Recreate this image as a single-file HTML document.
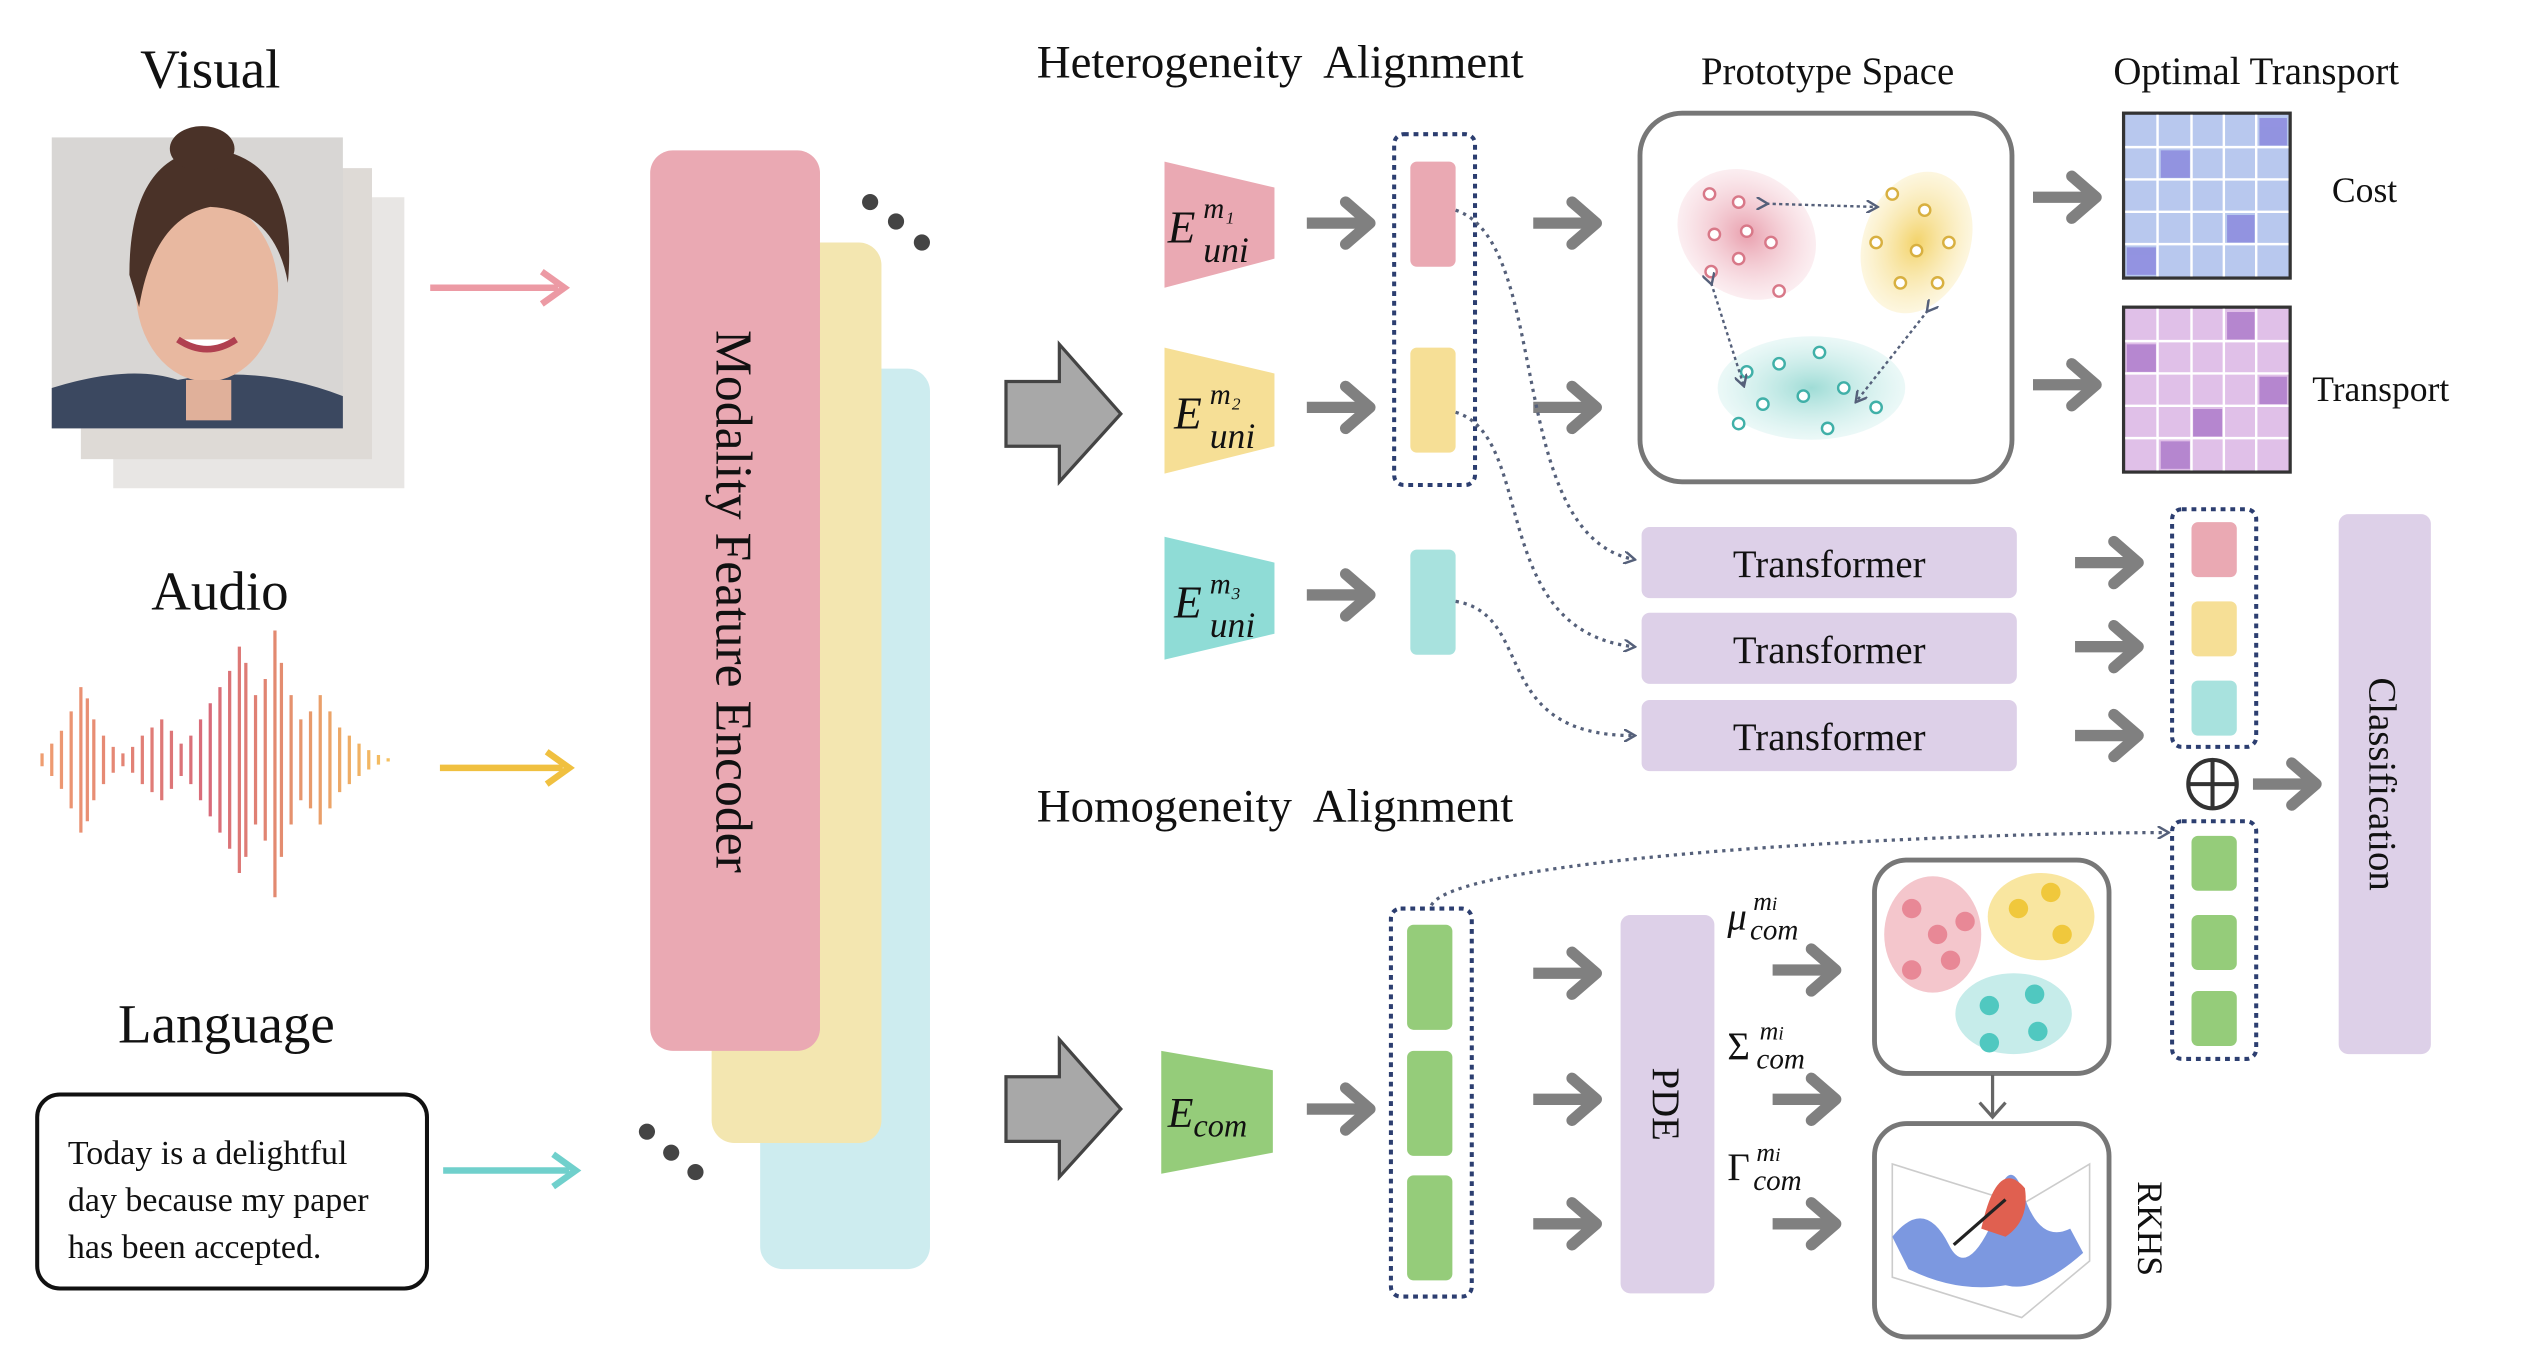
<!DOCTYPE html>
<html><head><meta charset="utf-8"><style>
html,body{margin:0;padding:0;background:#fff;width:2536px;height:1358px;overflow:hidden}
svg{display:block}
text{font-family:"Liberation Serif",serif;fill:#111}
</style></head><body>
<svg width="2536" height="1358" viewBox="0 0 1568 840" preserveAspectRatio="none" xmlns="http://www.w3.org/2000/svg">
<defs>
<marker id="dh" markerWidth="8" markerHeight="8" refX="6" refY="4" orient="auto" markerUnits="userSpaceOnUse"><path d="M0,0 L7,4 L0,8" fill="none" stroke="#55607a" stroke-width="1.5"/></marker>
<linearGradient id="wv" x1="0" y1="0" x2="1" y2="0"><stop offset="0" stop-color="#f0a070"/><stop offset=".5" stop-color="#d86a7a"/><stop offset="1" stop-color="#f5c060"/></linearGradient>
<radialGradient id="gp"><stop offset="0" stop-color="#e9a0ae"/><stop offset="1" stop-color="#f8dde3" stop-opacity=".5"/></radialGradient>
<radialGradient id="gy"><stop offset="0" stop-color="#f3d36a"/><stop offset="1" stop-color="#fbeec0" stop-opacity=".5"/></radialGradient>
<radialGradient id="gt"><stop offset="0" stop-color="#9fdcd6"/><stop offset="1" stop-color="#d8f2f0" stop-opacity=".5"/></radialGradient>
<g id="ga"><line x1="0" y1="0" x2="-40" y2="0" stroke="#808080" stroke-width="7"/><polyline points="-16,-13 -1,0 -16,13" fill="none" stroke="#808080" stroke-width="7" stroke-linecap="round" stroke-linejoin="round"/></g>
</defs>

<!-- Visual -->
<text x="130" y="54" font-size="34" text-anchor="middle">Visual</text>
<rect x="70" y="122" width="180" height="180" fill="#e8e6e4"/>
<rect x="50" y="104" width="180" height="180" fill="#dedad6"/>
<rect x="32" y="85" width="180" height="180" fill="#d8d6d4"/>
<path d="M32,265 L32,240 Q80,225 110,235 Q160,225 212,245 L212,265Z" fill="#3b4860"/>
<ellipse cx="128" cy="180" rx="44" ry="56" fill="#e8b8a0"/>
<path d="M80,170 Q80,95 130,92 Q185,98 178,175 Q170,130 130,128 Q95,135 86,190Z" fill="#4a3228"/>
<ellipse cx="125" cy="92" rx="20" ry="14" fill="#4a3228"/>
<path d="M110,210 Q128,222 146,210" stroke="#b04050" stroke-width="4" fill="#fff"/>
<rect x="115" y="235" width="28" height="25" fill="#e0b09a"/>
<line x1="266" y1="178" x2="345" y2="178" stroke="#ec9aa4" stroke-width="4"/><polyline points="335,168 349,178 335,188" fill="none" stroke="#ec9aa4" stroke-width="4"/>

<!-- Audio -->
<text x="136" y="377" font-size="34" text-anchor="middle">Audio</text>
<g stroke="url(#wv)" stroke-width="2">
<path d="M20,470v0 M26,466v8 M32,460v20 M38,452v36 M44,440v60 M50,425v90 M54,432v76 M58,445v50 M64,455v30 M70,462v16 M76,466v8 M82,462v16 M88,455v30 M94,450v40 M100,445v50 M106,452v36 M112,460v20 M118,455v30 M124,445v50 M130,435v70 M136,425v90 M142,415v110 M148,400v140 M152,410v120 M158,430v80 M164,420v100 M170,390v165 M174,410v120 M180,430v80 M186,445v50 M192,440v60 M198,430v80 M204,440v60 M210,450v40 M216,455v30 M222,460v20 M228,464v12 M234,467v6 M240,469v2"/>
</g>
<line x1="272" y1="475" x2="348" y2="475" stroke="#f0c040" stroke-width="4"/><polyline points="338,465 352,475 338,485" fill="none" stroke="#f0c040" stroke-width="4"/>

<!-- Language -->
<text x="140" y="645" font-size="34" text-anchor="middle">Language</text>
<rect x="23" y="677" width="241" height="120" rx="14" fill="#fff" stroke="#111" stroke-width="2.5"/>
<text x="42" y="720" font-size="21">Today is a delightful</text>
<text x="42" y="749" font-size="21">day because my paper</text>
<text x="42" y="778" font-size="21">has been accepted.</text>
<line x1="274" y1="724" x2="352" y2="724" stroke="#70d0cc" stroke-width="4"/><polyline points="342,714 356,724 342,734" fill="none" stroke="#70d0cc" stroke-width="4"/>

<!-- Encoder -->
<rect x="470" y="228" width="105" height="557" rx="14" fill="#cdecef"/>
<rect x="440" y="150" width="105" height="557" rx="14" fill="#f3e6b0"/>
<rect x="402" y="93" width="105" height="557" rx="14" fill="#eaa9b3"/>
<text transform="translate(443,372) rotate(90)" font-size="32" text-anchor="middle">Modality Feature Encoder</text>
<g fill="#444"><circle cx="538" cy="125" r="5"/><circle cx="554" cy="137" r="5"/><circle cx="570" cy="150" r="5"/>
<circle cx="400" cy="700" r="5"/><circle cx="415" cy="713" r="5"/><circle cx="430" cy="725" r="5"/></g>

<!-- Big arrows -->
<path d="M622,236 H655 V213 L693,256 L655,298 V276 H622Z" fill="#a8a8a8" stroke="#444" stroke-width="2"/>
<path d="M622,666 H655 V643 L693,686 L655,728 V706 H622Z" fill="#a8a8a8" stroke="#444" stroke-width="2"/>

<!-- Heterogeneity -->
<text x="641" y="48" font-size="29" xml:space="preserve">Heterogeneity  Alignment</text>
<path d="M720,100 L788,116 L788,160 L720,178Z" fill="#eaa9b3"/>
<path d="M720,215 L788,231 L788,276 L720,293Z" fill="#f6df96"/>
<path d="M720,332 L788,348 L788,392 L720,408Z" fill="#8fdcd6"/>
<g font-style="italic" font-size="28">
<text x="722" y="150">E</text><text x="744" y="135" font-size="18">m₁</text><text x="744" y="162" font-size="22">uni</text>
<text x="726" y="265">E</text><text x="748" y="250" font-size="18">m₂</text><text x="748" y="277" font-size="22">uni</text>
<text x="726" y="382">E</text><text x="748" y="367" font-size="18">m₃</text><text x="748" y="394" font-size="22">uni</text>
</g>
<use href="#ga" x="848" y="138"/><use href="#ga" x="848" y="252"/><use href="#ga" x="848" y="368"/>
<rect x="862" y="83" width="50" height="217" rx="6" fill="none" stroke="#2c3e70" stroke-width="2.5" stroke-dasharray="3,3"/>
<rect x="872" y="100" width="28" height="65" rx="4" fill="#eaa9b3"/>
<rect x="872" y="215" width="28" height="65" rx="4" fill="#f6df96"/>
<rect x="872" y="340" width="28" height="65" rx="4" fill="#a8e2de"/>
<use href="#ga" x="988" y="138"/><use href="#ga" x="988" y="252"/>

<!-- Prototype space -->
<text x="1130" y="52" font-size="24" text-anchor="middle">Prototype Space</text>
<rect x="1014" y="70" width="230" height="228" rx="26" fill="#fff" stroke="#777" stroke-width="3"/>
<ellipse cx="1080" cy="145" rx="45" ry="38" transform="rotate(35 1080 145)" fill="url(#gp)"/>
<ellipse cx="1185" cy="150" rx="33" ry="45" transform="rotate(20 1185 150)" fill="url(#gy)"/>
<ellipse cx="1120" cy="240" rx="58" ry="32" fill="url(#gt)"/>
<g fill="#fff" stroke-width="1.5">
<g stroke="#d87888"><circle cx="1057" cy="120" r="3.5"/><circle cx="1075" cy="125" r="3.5"/><circle cx="1060" cy="145" r="3.5"/><circle cx="1080" cy="143" r="3.5"/><circle cx="1095" cy="150" r="3.5"/><circle cx="1075" cy="160" r="3.5"/><circle cx="1058" cy="168" r="3.5"/><circle cx="1100" cy="180" r="3.5"/></g>
<g stroke="#d8b040"><circle cx="1170" cy="120" r="3.5"/><circle cx="1190" cy="130" r="3.5"/><circle cx="1160" cy="150" r="3.5"/><circle cx="1185" cy="155" r="3.5"/><circle cx="1205" cy="150" r="3.5"/><circle cx="1175" cy="175" r="3.5"/><circle cx="1198" cy="175" r="3.5"/></g>
<g stroke="#40b0a8"><circle cx="1080" cy="230" r="3.5"/><circle cx="1100" cy="225" r="3.5"/><circle cx="1125" cy="218" r="3.5"/><circle cx="1090" cy="250" r="3.5"/><circle cx="1115" cy="245" r="3.5"/><circle cx="1140" cy="240" r="3.5"/><circle cx="1160" cy="252" r="3.5"/><circle cx="1075" cy="262" r="3.5"/><circle cx="1130" cy="265" r="3.5"/></g>
</g>
<g stroke="#55607a" stroke-width="1.5" stroke-dasharray="2,2" fill="none">
<line x1="1092" y1="126" x2="1160" y2="128" marker-end="url(#dh)" marker-start="url(#dh)"/>
<line x1="1058" y1="175" x2="1078" y2="238" marker-end="url(#dh)" marker-start="url(#dh)"/>
<line x1="1192" y1="192" x2="1148" y2="248" marker-end="url(#dh)" marker-start="url(#dh)"/>
</g>

<!-- Optimal transport -->
<text x="1395" y="52" font-size="24" text-anchor="middle">Optimal Transport</text>
<use href="#ga" x="1297" y="122"/><use href="#ga" x="1297" y="238"/>
<g stroke="#333" stroke-width="2">
<rect x="1313" y="70" width="103" height="102" fill="#b8c8ee"/>
<rect x="1313" y="190" width="103" height="102" fill="#e0c0e8"/>
</g>
<g stroke="#fff" stroke-width="1.5" fill="none">
<path d="M1334,71V171M1355,71V171M1375,71V171M1395,71V171M1314,91H1415M1314,111H1415M1314,131H1415M1314,151H1415"/>
<path d="M1334,191V291M1355,191V291M1375,191V291M1395,191V291M1314,211H1415M1314,231H1415M1314,251H1415M1314,271H1415"/>
</g>
<g fill="#7a70d8" opacity=".6"><rect x="1336" y="93" width="18" height="17"/><rect x="1377" y="133" width="17" height="17"/><rect x="1315" y="153" width="18" height="17"/><rect x="1397" y="73" width="17" height="17"/></g>
<g fill="#9a60c0" opacity=".6"><rect x="1315" y="213" width="18" height="17"/><rect x="1356" y="253" width="18" height="17"/><rect x="1397" y="233" width="17" height="17"/><rect x="1336" y="273" width="18" height="17"/><rect x="1377" y="193" width="17" height="17"/></g>
<text x="1462" y="125" font-size="22" text-anchor="middle">Cost</text>
<text x="1472" y="248" font-size="22" text-anchor="middle">Transport</text>

<!-- Transformers -->
<g fill="#ddd0e8"><rect x="1015" y="326" width="232" height="44" rx="5"/><rect x="1015" y="379" width="232" height="44" rx="5"/><rect x="1015" y="433" width="232" height="44" rx="5"/></g>
<g font-size="24" text-anchor="middle"><text x="1131" y="357">Transformer</text><text x="1131" y="410">Transformer</text><text x="1131" y="464">Transformer</text></g>
<g stroke="#55607a" stroke-width="2" stroke-dasharray="2,3" fill="none">
<path d="M900,130 C960,150 930,330 1010,346" marker-end="url(#dh)"/>
<path d="M900,255 C950,270 920,390 1010,400" marker-end="url(#dh)"/>
<path d="M900,372 C950,380 920,455 1010,455" marker-end="url(#dh)"/>
<path d="M885,560 C900,530 1200,515 1340,515" marker-end="url(#dh)"/>
</g>
<use href="#ga" x="1323" y="348"/><use href="#ga" x="1323" y="400"/><use href="#ga" x="1323" y="455"/>
<rect x="1343" y="315" width="52" height="147" rx="6" fill="none" stroke="#2c3e70" stroke-width="2.5" stroke-dasharray="3,3"/>
<rect x="1355" y="323" width="28" height="34" rx="4" fill="#eaa9b3"/>
<rect x="1355" y="372" width="28" height="34" rx="4" fill="#f6df96"/>
<rect x="1355" y="421" width="28" height="34" rx="4" fill="#a8e2de"/>
<circle cx="1368" cy="485" r="15" fill="none" stroke="#333" stroke-width="2.5"/><path d="M1353,485H1383M1368,470V500" stroke="#333" stroke-width="2.5"/>
<use href="#ga" x="1433" y="485"/>
<rect x="1343" y="508" width="52" height="147" rx="6" fill="none" stroke="#2c3e70" stroke-width="2.5" stroke-dasharray="3,3"/>
<rect x="1355" y="517" width="28" height="34" rx="4" fill="#95cc7a"/>
<rect x="1355" y="566" width="28" height="34" rx="4" fill="#95cc7a"/>
<rect x="1355" y="613" width="28" height="34" rx="4" fill="#95cc7a"/>
<rect x="1446" y="318" width="57" height="334" rx="6" fill="#ddd0e8"/>
<text transform="translate(1465,485) rotate(90)" font-size="24" text-anchor="middle">Classification</text>

<!-- Homogeneity -->
<text x="641" y="508" font-size="29" xml:space="preserve">Homogeneity  Alignment</text>
<path d="M718,650 L787,662 L787,713 L718,726Z" fill="#95cc7a"/>
<text x="722" y="697" font-size="26" font-style="italic">E<tspan font-size="20" dy="6">com</tspan></text>
<use href="#ga" x="848" y="686"/>
<rect x="860" y="562" width="50" height="240" rx="6" fill="none" stroke="#2c3e70" stroke-width="2.5" stroke-dasharray="3,3"/>
<rect x="870" y="572" width="28" height="65" rx="4" fill="#95cc7a"/>
<rect x="870" y="650" width="28" height="65" rx="4" fill="#95cc7a"/>
<rect x="870" y="727" width="28" height="65" rx="4" fill="#95cc7a"/>
<use href="#ga" x="988" y="602"/><use href="#ga" x="988" y="680"/><use href="#ga" x="988" y="757"/>
<rect x="1002" y="566" width="58" height="234" rx="6" fill="#ddd0e8"/>
<text transform="translate(1022,683) rotate(90)" font-size="24" text-anchor="middle">PDE</text>
<g font-style="italic" font-size="24">
<text x="1068" y="575">μ</text><text x="1084" y="563" font-size="16">m<tspan font-size="12">i</tspan></text><text x="1082" y="581" font-size="18">com</text>
<text x="1068" y="655" font-style="normal">Σ</text><text x="1088" y="643" font-size="16">m<tspan font-size="12">i</tspan></text><text x="1086" y="661" font-size="18">com</text>
<text x="1068" y="730" font-style="normal">Γ</text><text x="1086" y="718" font-size="16">m<tspan font-size="12">i</tspan></text><text x="1084" y="736" font-size="18">com</text>
</g>
<use href="#ga" x="1136" y="600"/><use href="#ga" x="1136" y="680"/><use href="#ga" x="1136" y="757"/>
<rect x="1159" y="532" width="145" height="132" rx="20" fill="#fff" stroke="#777" stroke-width="3"/>
<ellipse cx="1195" cy="578" rx="30" ry="36" fill="#f4c6cc"/>
<ellipse cx="1262" cy="567" rx="33" ry="27" fill="#f9e6a0"/>
<ellipse cx="1245" cy="627" rx="36" ry="25" fill="#c6ecea"/>
<g fill="#e88896"><circle cx="1182" cy="562" r="6"/><circle cx="1198" cy="578" r="6"/><circle cx="1215" cy="570" r="6"/><circle cx="1182" cy="600" r="6"/><circle cx="1206" cy="594" r="6"/></g>
<g fill="#f0c83c"><circle cx="1248" cy="562" r="6"/><circle cx="1268" cy="552" r="6"/><circle cx="1275" cy="578" r="6"/></g>
<g fill="#50c8c0"><circle cx="1230" cy="622" r="6"/><circle cx="1258" cy="615" r="6"/><circle cx="1230" cy="645" r="6"/><circle cx="1260" cy="638" r="6"/></g>
<line x1="1232" y1="665" x2="1232" y2="690" stroke="#666" stroke-width="2"/><polyline points="1224,682 1232,691 1240,682" fill="none" stroke="#666" stroke-width="2"/>
<rect x="1159" y="695" width="145" height="132" rx="20" fill="#fff" stroke="#777" stroke-width="3"/>
<path d="M1170,790 L1250,815 L1292,780 L1292,720 L1250,745 L1170,720Z" fill="none" stroke="#ccc" stroke-width="1"/>
<path d="M1170,765 Q1190,740 1205,770 Q1215,790 1230,760 Q1240,710 1250,735 Q1260,770 1280,760 L1288,775 Q1260,800 1240,795 Q1210,800 1180,785Z" fill="#7c98e0"/>
<path d="M1225,760 Q1235,715 1252,735 Q1255,755 1240,765Z" fill="#e06050"/>
<line x1="1208" y1="770" x2="1240" y2="742" stroke="#222" stroke-width="2"/>
<text transform="translate(1322,760) rotate(90)" font-size="22" text-anchor="middle">RKHS</text>
</svg>
</body></html>
